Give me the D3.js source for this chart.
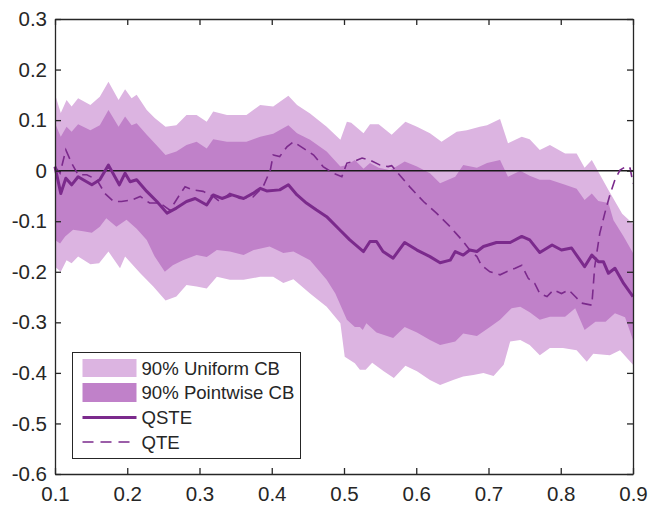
<!DOCTYPE html>
<html>
<head>
<meta charset="utf-8">
<script src="https://cdn.jsdelivr.net/npm/d3@7"></script>
<style>
  body { margin: 0; background: #fff; }
  text { font-family: "Liberation Sans", Arial, sans-serif; fill: #262626; }
</style>
</head>
<body>
<div id="chart"></div>
<script>
// quantile index -> estimate
const qsteLine = [[0.100,0.008],[0.108,-0.045],[0.115,-0.015],[0.123,-0.028],[0.132,-0.012],[0.139,-0.018],[0.151,-0.028],[0.162,-0.018],[0.174,0.011],[0.189,-0.028],[0.197,-0.005],[0.204,-0.022],[0.213,-0.018],[0.227,-0.041],[0.241,-0.061],[0.255,-0.084],[0.268,-0.074],[0.282,-0.061],[0.294,-0.055],[0.310,-0.068],[0.319,-0.048],[0.331,-0.055],[0.345,-0.048],[0.361,-0.055],[0.374,-0.045],[0.384,-0.035],[0.393,-0.040],[0.411,-0.038],[0.423,-0.028],[0.435,-0.048],[0.448,-0.064],[0.462,-0.078],[0.476,-0.091],[0.494,-0.117],[0.508,-0.137],[0.527,-0.160],[0.536,-0.140],[0.545,-0.140],[0.554,-0.160],[0.568,-0.173],[0.584,-0.142],[0.601,-0.157],[0.619,-0.170],[0.633,-0.182],[0.647,-0.177],[0.654,-0.160],[0.665,-0.167],[0.674,-0.157],[0.684,-0.160],[0.693,-0.150],[0.711,-0.142],[0.730,-0.142],[0.746,-0.130],[0.757,-0.137],[0.771,-0.162],[0.788,-0.147],[0.801,-0.157],[0.815,-0.153],[0.833,-0.190],[0.843,-0.167],[0.852,-0.180],[0.859,-0.180],[0.866,-0.203],[0.875,-0.193],[0.887,-0.223],[0.900,-0.249]];

const qteLine = [[0.100,0.008],[0.107,-0.005],[0.115,0.041],[0.123,0.015],[0.132,-0.008],[0.144,-0.008],[0.158,-0.018],[0.169,-0.045],[0.181,-0.061],[0.192,-0.061],[0.206,-0.058],[0.218,-0.051],[0.231,-0.064],[0.245,-0.064],[0.259,-0.078],[0.271,-0.051],[0.280,-0.032],[0.291,-0.038],[0.305,-0.041],[0.319,-0.051],[0.328,-0.061],[0.342,-0.045],[0.356,-0.055],[0.374,-0.052],[0.388,-0.032],[0.398,0.001],[0.402,0.031],[0.411,0.028],[0.421,0.047],[0.430,0.057],[0.444,0.044],[0.458,0.031],[0.471,0.008],[0.485,-0.005],[0.497,-0.012],[0.504,0.015],[0.513,0.018],[0.525,0.025],[0.536,0.021],[0.550,0.011],[0.561,0.008],[0.566,0.010],[0.573,-0.002],[0.591,-0.032],[0.610,-0.061],[0.628,-0.084],[0.647,-0.111],[0.655,-0.124],[0.665,-0.140],[0.674,-0.157],[0.684,-0.170],[0.690,-0.187],[0.702,-0.200],[0.716,-0.206],[0.725,-0.200],[0.737,-0.193],[0.746,-0.187],[0.755,-0.213],[0.764,-0.223],[0.771,-0.243],[0.781,-0.249],[0.790,-0.236],[0.801,-0.243],[0.811,-0.236],[0.820,-0.249],[0.829,-0.262],[0.843,-0.266],[0.847,-0.190],[0.854,-0.124],[0.861,-0.084],[0.868,-0.048],[0.875,-0.018],[0.882,0.001],[0.891,0.009],[0.896,0.005],[0.900,-0.025]];

const uniUpper = [[0.100,0.151],[0.108,0.114],[0.116,0.140],[0.123,0.127],[0.132,0.143],[0.149,0.130],[0.162,0.146],[0.174,0.176],[0.188,0.140],[0.197,0.161],[0.206,0.143],[0.213,0.150],[0.227,0.120],[0.238,0.104],[0.253,0.087],[0.268,0.090],[0.282,0.110],[0.296,0.110],[0.310,0.097],[0.319,0.117],[0.338,0.110],[0.365,0.110],[0.384,0.130],[0.402,0.127],[0.423,0.148],[0.435,0.130],[0.453,0.113],[0.476,0.087],[0.495,0.061],[0.504,0.097],[0.510,0.095],[0.527,0.074],[0.536,0.092],[0.548,0.092],[0.566,0.071],[0.585,0.097],[0.601,0.087],[0.619,0.074],[0.635,0.057],[0.656,0.077],[0.670,0.080],[0.688,0.087],[0.698,0.090],[0.716,0.102],[0.727,0.054],[0.746,0.067],[0.757,0.062],[0.771,0.041],[0.785,0.051],[0.806,0.034],[0.822,0.034],[0.833,0.006],[0.843,0.021],[0.866,-0.038],[0.885,-0.085],[0.900,-0.105]];

const uniLower = [[0.100,-0.190],[0.108,-0.200],[0.116,-0.177],[0.123,-0.183],[0.132,-0.170],[0.149,-0.185],[0.161,-0.183],[0.174,-0.160],[0.190,-0.193],[0.197,-0.170],[0.218,-0.203],[0.236,-0.229],[0.253,-0.257],[0.268,-0.249],[0.282,-0.226],[0.296,-0.229],[0.310,-0.233],[0.324,-0.210],[0.342,-0.216],[0.361,-0.216],[0.384,-0.210],[0.402,-0.210],[0.416,-0.222],[0.430,-0.215],[0.453,-0.243],[0.476,-0.269],[0.495,-0.302],[0.501,-0.368],[0.515,-0.381],[0.522,-0.394],[0.530,-0.394],[0.539,-0.380],[0.555,-0.397],[0.569,-0.410],[0.585,-0.386],[0.601,-0.397],[0.619,-0.414],[0.633,-0.424],[0.651,-0.414],[0.665,-0.407],[0.679,-0.404],[0.693,-0.400],[0.707,-0.406],[0.721,-0.384],[0.730,-0.338],[0.744,-0.335],[0.757,-0.345],[0.771,-0.365],[0.785,-0.351],[0.803,-0.351],[0.822,-0.355],[0.836,-0.378],[0.845,-0.362],[0.868,-0.365],[0.882,-0.355],[0.900,-0.384]];

const ptUpper = [[0.100,0.094],[0.108,0.067],[0.116,0.087],[0.123,0.077],[0.132,0.092],[0.149,0.080],[0.162,0.090],[0.174,0.120],[0.188,0.087],[0.197,0.107],[0.206,0.090],[0.213,0.094],[0.227,0.071],[0.238,0.054],[0.253,0.031],[0.268,0.038],[0.282,0.051],[0.296,0.057],[0.310,0.044],[0.319,0.062],[0.338,0.057],[0.365,0.057],[0.384,0.067],[0.402,0.073],[0.423,0.090],[0.435,0.074],[0.453,0.061],[0.476,0.038],[0.495,0.008],[0.504,0.011],[0.515,0.021],[0.527,0.004],[0.536,0.015],[0.548,0.006],[0.564,0.001],[0.584,0.018],[0.601,0.008],[0.619,-0.005],[0.633,-0.025],[0.654,-0.012],[0.665,0.011],[0.684,0.006],[0.698,0.015],[0.716,0.021],[0.727,-0.012],[0.744,0.000],[0.757,-0.010],[0.771,-0.018],[0.785,-0.018],[0.806,-0.028],[0.822,-0.036],[0.833,-0.058],[0.843,-0.045],[0.852,-0.060],[0.866,-0.064],[0.873,-0.098],[0.887,-0.130],[0.900,-0.163]];

const ptLower = [[0.100,-0.137],[0.107,-0.144],[0.114,-0.130],[0.125,-0.117],[0.139,-0.120],[0.151,-0.123],[0.162,-0.111],[0.171,-0.094],[0.185,-0.111],[0.199,-0.097],[0.213,-0.115],[0.227,-0.137],[0.238,-0.170],[0.252,-0.200],[0.263,-0.187],[0.277,-0.177],[0.296,-0.167],[0.310,-0.171],[0.324,-0.157],[0.342,-0.160],[0.361,-0.167],[0.375,-0.157],[0.397,-0.150],[0.416,-0.163],[0.430,-0.160],[0.453,-0.177],[0.476,-0.216],[0.488,-0.243],[0.504,-0.295],[0.515,-0.309],[0.522,-0.309],[0.526,-0.315],[0.531,-0.302],[0.545,-0.320],[0.568,-0.331],[0.584,-0.309],[0.601,-0.320],[0.619,-0.335],[0.633,-0.345],[0.654,-0.338],[0.665,-0.322],[0.684,-0.327],[0.702,-0.309],[0.716,-0.295],[0.732,-0.272],[0.744,-0.269],[0.757,-0.280],[0.771,-0.295],[0.785,-0.289],[0.806,-0.289],[0.820,-0.272],[0.833,-0.315],[0.848,-0.299],[0.862,-0.299],[0.875,-0.282],[0.889,-0.290],[0.900,-0.335]];

const xTicks = [0.1, 0.2, 0.3, 0.4, 0.5, 0.6, 0.7, 0.8, 0.9];
const yTicks = [-0.6, -0.5, -0.4, -0.3, -0.2, -0.1, 0, 0.1, 0.2, 0.3];
const legendLabels = ["90% Uniform CB", "90% Pointwise CB", "QSTE", "QTE"];

const width = 649;
const height = 509;
const margin = { top: 19, right: 16, bottom: 35, left: 55 };
const lightFill = "#dcb4e1";
const darkFill = "#c081c9";
const lineColor = "#7b2a8c";
const axisColor = "#262626";

const svg = d3.select("#chart").append("svg")
    .attr("width", width)
    .attr("height", height);

const x = d3.scaleLinear().domain([0.1, 0.9]).range([margin.left, width - margin.right]);
const y = d3.scaleLinear().domain([-0.6, 0.3]).range([height - margin.bottom, margin.top]);

const line = d3.line().x(d => x(d[0])).y(d => y(d[1]));

// band = upper edge, then lower edge walked backwards
function band(upper, lower) {
    return line(upper.concat(lower.slice().reverse())) + "Z";
}

svg.append("path").attr("d", band(uniUpper, uniLower)).attr("fill", lightFill);
svg.append("path").attr("d", band(ptUpper, ptLower)).attr("fill", darkFill);

svg.append("line")
    .attr("x1", x(0.1)).attr("x2", x(0.9))
    .attr("y1", y(0)).attr("y2", y(0))
    .attr("stroke", "#1a1a1a").attr("stroke-width", 1.5);

svg.append("path").attr("d", line(qsteLine))
    .attr("fill", "none").attr("stroke", lineColor)
    .attr("stroke-width", 3).attr("stroke-linejoin", "round");

svg.append("path").attr("d", line(qteLine))
    .attr("fill", "none").attr("stroke", lineColor)
    .attr("stroke-width", 1.6).attr("stroke-dasharray", "10,6");

// axes: MATLAB style box, ticks pointing in
const fmt = d => d === 0 ? "0" : d3.format(".1f")(d).replace("−", "-");

svg.append("g")
    .attr("transform", `translate(0,${height - margin.bottom})`)
    .call(d3.axisBottom(x).tickValues(xTicks).tickSizeInner(-6).tickSizeOuter(0).tickPadding(12).tickFormat(fmt));
svg.append("g")
    .attr("transform", `translate(0,${margin.top})`)
    .call(d3.axisTop(x).tickValues(xTicks).tickSizeInner(-6).tickSizeOuter(0).tickFormat(""));
svg.append("g")
    .attr("transform", `translate(${margin.left},0)`)
    .call(d3.axisLeft(y).tickValues(yTicks).tickSizeInner(-6).tickSizeOuter(0).tickPadding(8).tickFormat(fmt));
svg.append("g")
    .attr("transform", `translate(${width - margin.right},0)`)
    .call(d3.axisRight(y).tickValues(yTicks).tickSizeInner(-6).tickSizeOuter(0).tickFormat(""));

svg.selectAll(".domain, .tick line").attr("stroke", axisColor).attr("stroke-width", 1.3);
svg.selectAll(".tick text").attr("font-size", 20.5).attr("fill", axisColor)
    .style("font-family", "'Liberation Sans', Arial, sans-serif");

// legend
const lg = svg.append("g").attr("transform", "translate(72.5,352.5)");
lg.append("rect").attr("width", 228).attr("height", 106)
    .attr("fill", "#fff").attr("stroke", axisColor).attr("stroke-width", 1);

const rowY = [15.5, 40, 65, 89.5];
lg.append("rect").attr("x", 10).attr("y", rowY[0] - 9).attr("width", 54).attr("height", 18).attr("fill", lightFill);
lg.append("rect").attr("x", 10).attr("y", rowY[1] - 9.5).attr("width", 54).attr("height", 19).attr("fill", darkFill);
lg.append("line").attr("x1", 10).attr("x2", 64).attr("y1", rowY[2]).attr("y2", rowY[2])
    .attr("stroke", lineColor).attr("stroke-width", 3);
lg.append("line").attr("x1", 10).attr("x2", 64).attr("y1", rowY[3]).attr("y2", rowY[3])
    .attr("stroke", lineColor).attr("stroke-width", 1.6).attr("stroke-dasharray", "11,7");

lg.selectAll("text.lab").data(legendLabels).enter().append("text")
    .attr("class", "lab")
    .attr("x", 69)
    .attr("y", (d, i) => rowY[i])
    .attr("dy", "0.36em")
    .attr("font-size", 18.6)
    .text(d => d);
</script>
</body>
</html>
